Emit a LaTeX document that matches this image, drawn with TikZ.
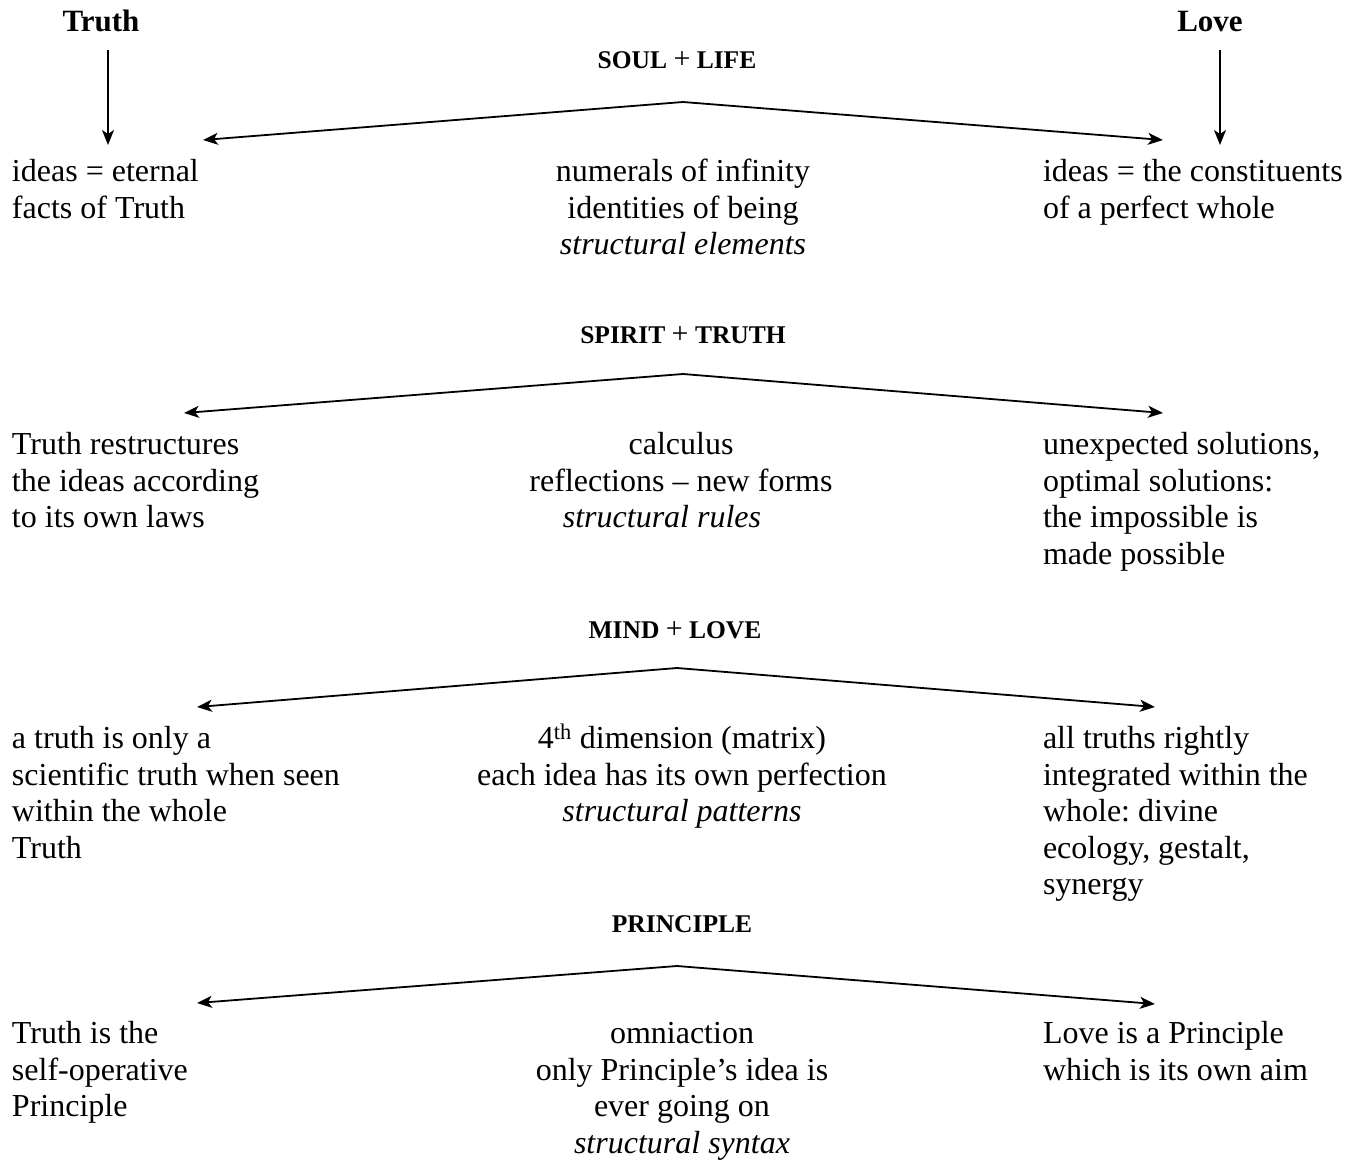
\documentclass[tikz,border=0pt]{standalone}
\usepackage{fontspec}
\setmainfont{Liberation Serif}
\usetikzlibrary{arrows.meta}
\frenchspacing
\newcommand{\plussign}{{\mdseries\fontsize{30}{30}\selectfont +}}
\begin{document}
\begin{tikzpicture}[x=1pt,y=-1pt,
  body/.style={inner sep=0pt, outer sep=0pt, font=\fontsize{32}{36.6}\selectfont\frenchspacing},
  lefttext/.style={body, align=left, anchor=base west},
  midtext/.style={body, align=center, anchor=base},
  head/.style={inner sep=0pt, font=\fontsize{25.5}{30}\selectfont\bfseries, anchor=base},
  topword/.style={inner sep=0pt, font=\fontsize{31}{36}\selectfont\bfseries, anchor=base},
  tip/.style={-{Stealth[length=15pt,width=12pt,inset=4pt]}},
  conn/.style={line width=1.8pt, tip},
  roof/.style={line width=1.8pt, {Stealth[length=15pt,width=12pt,inset=4pt]}-{Stealth[length=15pt,width=12pt,inset=4pt]}}]
\useasboundingbox (0,0) rectangle (1363,1161);
\fill[white] (0,0) rectangle (1363,1161);

% top words
\node[topword] (truth) at (101,32) {Truth};
\node[topword] (love) at (1210,32) {Love};
\coordinate (truthtip) at (108,145);
\coordinate (lovetip) at (1220,145);
\draw[conn] (108,50) -- (truthtip);
\draw[conn] (1220,50) -- (lovetip);

% level 1
\node[head] (h1) at (677,69) {SOUL \plussign\ LIFE};
\coordinate (a1) at (683,102);
\coordinate (l1) at (203,140);
\coordinate (r1) at (1163,140);
\draw[roof] (l1) -- (a1) -- (r1);
\node[lefttext] (t1l) at (12,218.1) {ideas = eternal\\facts of Truth};
\node[midtext] (t1m) at (683,254.7) {numerals of infinity\\identities of being\\\textit{structural elements}};
\node[lefttext] (t1r) at (1043,218.1) {ideas = the constituents\\of a perfect whole};

% level 2
\node[head] (h2) at (683,343) {SPIRIT \plussign\ TRUTH};
\coordinate (a2) at (683,374);
\coordinate (l2) at (184,413);
\coordinate (r2) at (1163,413);
\draw[roof] (l2) -- (a2) -- (r2);
\node[lefttext] (t2l) at (12,527.7) {Truth restructures\\the ideas according\\to its own laws};
\node[midtext] (t2m) at (681,527.7) {calculus\\reflections -- new forms\\\textit{structural rules}\hspace*{38pt}};
\node[lefttext] (t2r) at (1043,564.3) {unexpected solutions,\\optimal solutions:\\the impossible is\\made possible};

% level 3
\node[head] (h3) at (675,638) {MIND \plussign\ LOVE};
\coordinate (a3) at (677,668);
\coordinate (l3) at (197,707);
\coordinate (r3) at (1155,707);
\draw[roof] (l3) -- (a3) -- (r3);
\node[lefttext] (t3l) at (12,858.3) {a truth is only a\\scientific truth when seen\\within the whole\\Truth};
\node[midtext] (t3m) at (682,821.7) {4\textsuperscript{th} dimension (matrix)\\each idea has its own perfection\\\textit{structural patterns}};
\node[lefttext] (t3r) at (1043,894.9) {all truths rightly\\integrated within the\\whole: divine\\ecology, gestalt,\\synergy};

% level 4
\node[head] (h4) at (682,932) {PRINCIPLE};
\coordinate (a4) at (677,966);
\coordinate (l4) at (197,1003);
\coordinate (r4) at (1155,1004);
\draw[roof] (l4) -- (a4) -- (r4);
\node[lefttext] (t4l) at (12,1116.7) {Truth is the\\self-operative\\Principle};
\node[midtext] (t4m) at (682,1153.3) {omniaction\\only Principle’s idea is\\ever going on\\\textit{structural syntax}};
\node[lefttext] (t4r) at (1043,1080.1) {Love is a Principle\\which is its own aim};
\end{tikzpicture}
\end{document}
